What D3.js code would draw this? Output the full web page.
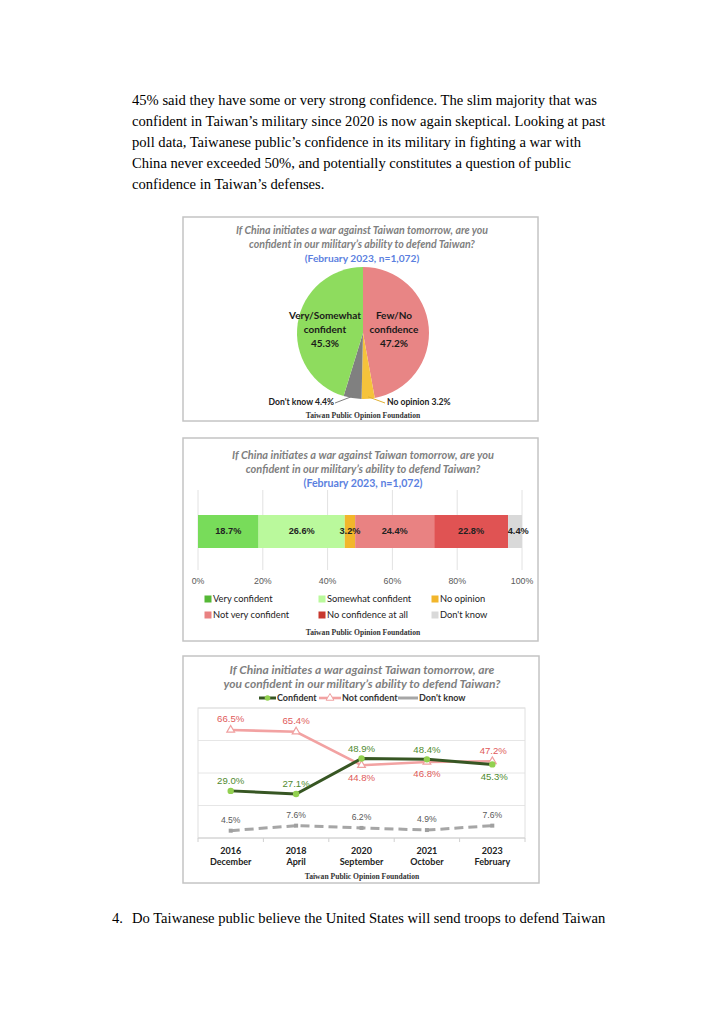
<!DOCTYPE html>
<html>
<head>
<meta charset="utf-8">
<title>Confidence in the military</title>
<script src="https://cdn.jsdelivr.net/npm/d3@7"></script>
<style>
  body { margin: 0; background: #fff; }
  svg { display: block; }
</style>
</head>
<body>
<div id="page"></div>
<script>
// ---- data ----
var bodyLines = [
  "45% said they have some or very strong confidence. The slim majority that was",
  "confident in Taiwan\u2019s military since 2020 is now again skeptical. Looking at past",
  "poll data, Taiwanese public\u2019s confidence in its military in fighting a war with",
  "China never exceeded 50%, and potentially constitutes a question of public",
  "confidence in Taiwan\u2019s defenses."
];
var titleLines = [
  "If China initiates a war against Taiwan tomorrow, are you",
  "confident in our military\u2019s ability to defend Taiwan?"
];
var subTitle = "(February 2023, n=1,072)";
var lineTitle = [
  "If China initiates a war against Taiwan tomorrow, are",
  "you confident in our military\u2019s ability to defend Taiwan?"
];
var source = "Taiwan Public Opinion Foundation";

var pieLabels = ["Few/No confidence", "No opinion", "Don't know", "Very/Somewhat confident"];
var pieValues = [47.2, 3.2, 4.4, 45.3];

var barCats = ["Very confident", "Somewhat confident", "No opinion",
               "Not very confident", "No confidence at all", "Don't know"];
var barValues = [18.7, 26.6, 3.2, 24.4, 22.8, 4.4];
var barTicks = [0, 20, 40, 60, 80, 100];

var years = ["2016", "2018", "2020", "2021", "2023"];
var months = ["December", "April", "September", "October", "February"];
var confident = [29.0, 27.1, 48.9, 48.4, 45.3];
var notConfident = [66.5, 65.4, 44.8, 46.8, 47.2];
var dontKnow = [4.5, 7.6, 6.2, 4.9, 7.6];

// ---- page ----
var W = 724, H = 1024;
var svg = d3.select("#page").append("svg").attr("width", W).attr("height", H);
svg.append("rect").attr("width", W).attr("height", H).attr("fill", "#fff");

var serif = "'Liberation Serif', 'DejaVu Serif', serif";
var cal = "Lato, 'Open Sans', sans-serif";
var arial = "'Liberation Sans', Arial, sans-serif";

svg.selectAll("text.body")
  .data(bodyLines)
  .enter().append("text")
  .attr("class", "body")
  .attr("x", 132)
  .attr("y", function(d, i) { return 105 + i * 21; })
  .attr("font-family", serif)
  .attr("font-size", "14.6px")
  .attr("fill", "#000")
  .text(function(d) { return d; });

svg.append("text").attr("x", 112).attr("y", 923)
  .attr("font-family", serif).attr("font-size", "14.6px").attr("fill", "#000")
  .text("4.");
svg.append("text").attr("x", 132).attr("y", 923)
  .attr("font-family", serif).attr("font-size", "14.6px").attr("fill", "#000")
  .text("Do Taiwanese public believe the United States will send troops to defend Taiwan");

function panel(x, y, w, h) {
  svg.append("rect")
    .attr("x", x).attr("y", y).attr("width", w).attr("height", h)
    .attr("fill", "#fff").attr("stroke", "#c4c4c4").attr("stroke-width", 1.5);
}

function label(g, x, y, txt, opts) {
  opts = opts || {};
  return g.append("text")
    .attr("x", x).attr("y", y).attr("dy", "0.35em")
    .attr("text-anchor", opts.anchor || "middle")
    .attr("font-family", opts.family || cal)
    .attr("font-size", opts.size || "10px")
    .attr("font-weight", opts.weight || "bold")
    .attr("font-style", opts.style || "normal")
    .attr("fill", opts.fill || "#222")
    .text(txt);
}

// ---- pie panel ----
panel(183, 217, 355, 204);
var pg = svg.append("g");
label(pg, 362, 230, titleLines[0], {style: "italic", fill: "#7f7f7f", size: "10.6px"});
label(pg, 362, 244, titleLines[1], {style: "italic", fill: "#7f7f7f", size: "10.6px"});
label(pg, 362, 258, subTitle, {fill: "#5b7fe0", size: "10.2px"});

var pieColors = ["#e88585", "#f5c33b", "#808080", "#8edc5e"];
var cx = 363, cy = 333, r = 66;
var pie = d3.pie().sort(null).value(function(d) { return d; });
var arcs = pie(pieValues);
var arc = d3.arc().innerRadius(0).outerRadius(r);
var pieG = pg.append("g").attr("transform", "translate(" + cx + "," + cy + ")");
pieG.selectAll("path")
  .data(arcs)
  .enter().append("path")
  .attr("d", arc)
  .attr("fill", function(d, i) { return pieColors[i]; });

label(pg, 325, 315, "Very/Somewhat", {size: "10px", fill: "#1a1a1a"});
label(pg, 325, 329, "confident", {size: "10px", fill: "#1a1a1a"});
label(pg, 325, 343, "45.3%", {size: "10px", fill: "#1a1a1a"});
label(pg, 394, 315, "Few/No", {size: "10px", fill: "#1a1a1a"});
label(pg, 394, 329, "confidence", {size: "10px", fill: "#1a1a1a"});
label(pg, 394, 343, "47.2%", {size: "10px", fill: "#1a1a1a"});

// leader lines for the small slices
var edge = d3.arc().innerRadius(r - 2).outerRadius(r - 2);
var dk = edge.centroid(arcs[2]), no = edge.centroid(arcs[1]);
pg.append("line").attr("x1", 335).attr("y1", 403)
  .attr("x2", cx + dk[0]).attr("y2", cy + dk[1])
  .attr("stroke", "#7f7f7f").attr("stroke-width", 1);
pg.append("line").attr("x1", 385).attr("y1", 403)
  .attr("x2", cx + no[0]).attr("y2", cy + no[1])
  .attr("stroke", "#e0b030").attr("stroke-width", 1);
label(pg, 334, 402, "Don't know 4.4%", {anchor: "end", size: "8.6px"});
label(pg, 387, 402, "No opinion 3.2%", {anchor: "start", size: "8.6px"});
label(pg, 363, 415, source, {family: serif, size: "7.6px", fill: "#333"});

// ---- stacked bar panel ----
panel(183, 438, 355, 203);
var bg = svg.append("g");
label(bg, 363, 455, titleLines[0], {style: "italic", fill: "#7f7f7f", size: "11px"});
label(bg, 363, 469, titleLines[1], {style: "italic", fill: "#7f7f7f", size: "11px"});
label(bg, 363, 483, subTitle, {fill: "#5b7fe0", size: "10.6px"});

var bx = d3.scaleLinear().domain([0, 100]).range([198, 522]);
bg.selectAll("line.grid")
  .data(barTicks)
  .enter().append("line")
  .attr("class", "grid")
  .attr("x1", function(d) { return bx(d); }).attr("x2", function(d) { return bx(d); })
  .attr("y1", 490).attr("y2", 570)
  .attr("stroke", "#e2e2e2").attr("stroke-width", 1);
bg.selectAll("text.tick")
  .data(barTicks)
  .enter().append("text")
  .attr("class", "tick")
  .attr("x", function(d) { return bx(d); }).attr("y", 581).attr("dy", "0.35em")
  .attr("text-anchor", "middle")
  .attr("font-family", arial).attr("font-size", "8.8px").attr("fill", "#595959")
  .text(function(d) { return d + "%"; });

var barColors = ["#78dc5a", "#baf99c", "#f2b62b", "#e98282", "#e05353", "#d9d9d9"];
var segs = [], acc = 0;
barValues.forEach(function(v, i) { segs.push({i: i, v: v, x0: acc, x1: acc + v}); acc += v; });
bg.selectAll("rect.seg")
  .data(segs)
  .enter().append("rect")
  .attr("class", "seg")
  .attr("x", function(d) { return bx(d.x0); })
  .attr("width", function(d) { return bx(Math.min(d.x1, 100)) - bx(d.x0); })
  .attr("y", 515).attr("height", 33)
  .attr("fill", function(d) { return barColors[d.i]; });
bg.selectAll("text.seglab")
  .data(segs)
  .enter().append("text")
  .attr("class", "seglab")
  .attr("x", function(d) { return bx((d.x0 + d.x1) / 2) + (d.i == 5 ? 3 : 0); })
  .attr("y", 531).attr("dy", "0.35em")
  .attr("text-anchor", "middle")
  .attr("font-family", arial).attr("font-size", "9.2px").attr("font-weight", "bold")
  .attr("fill", "#222")
  .text(function(d) { return d.v.toFixed(1) + "%"; });

var legX = [208, 322, 435];
var leg = bg.selectAll("g.leg")
  .data(barCats)
  .enter().append("g")
  .attr("class", "leg")
  .attr("transform", function(d, i) {
    return "translate(" + legX[i % 3] + "," + (i < 3 ? 599 : 615) + ")";
  });
leg.append("rect").attr("x", -3.5).attr("y", -3.5).attr("width", 7).attr("height", 7)
  .attr("fill", function(d, i) { return i == 0 ? "#55b836" : (i == 4 ? "#c8382e" : barColors[i]); });
leg.append("text").attr("x", 5).attr("dy", "0.35em")
  .attr("font-family", cal).attr("font-size", "9.3px").attr("fill", "#222")
  .text(function(d) { return d; });
label(bg, 363, 632, source, {family: serif, size: "7.6px", fill: "#333"});

// ---- line panel ----
panel(183, 656, 356, 227);
var lg = svg.append("g");
label(lg, 362, 670, lineTitle[0], {style: "italic", fill: "#7f7f7f", size: "12px"});
label(lg, 362, 684, lineTitle[1], {style: "italic", fill: "#7f7f7f", size: "12px"});

var x = d3.scalePoint().domain(years).range([198, 525]).padding(0.5);
var y = d3.scaleLinear().domain([0, 80]).range([838, 708]);
var step = x.step();

lg.selectAll("line.hgrid")
  .data([20, 40, 60, 80])
  .enter().append("line")
  .attr("class", "hgrid")
  .attr("x1", 198).attr("x2", 525)
  .attr("y1", function(d) { return y(d); }).attr("y2", function(d) { return y(d); })
  .attr("stroke", "#e6e6e6");
lg.append("rect").attr("x", 198).attr("y", y(80)).attr("width", 327).attr("height", y(0) - y(80))
  .attr("fill", "none").attr("stroke", "#e0e0e0");
lg.append("line").attr("x1", 198).attr("x2", 525).attr("y1", y(0)).attr("y2", y(0))
  .attr("stroke", "#d0d0d0");
lg.selectAll("line.xt")
  .data(d3.range(6))
  .enter().append("line")
  .attr("class", "xt")
  .attr("x1", function(d) { return 198 + d * step; }).attr("x2", function(d) { return 198 + d * step; })
  .attr("y1", y(0)).attr("y2", y(0) + 4)
  .attr("stroke", "#d0d0d0");

var line = d3.line()
  .x(function(d, i) { return x(years[i]); })
  .y(function(d) { return y(d); });

lg.append("path").datum(dontKnow).attr("d", line)
  .attr("fill", "none").attr("stroke", "#a6a6a6").attr("stroke-width", 3)
  .attr("stroke-dasharray", "9,5");
lg.selectAll("rect.dkm")
  .data(dontKnow)
  .enter().append("rect")
  .attr("class", "dkm")
  .attr("x", function(d, i) { return x(years[i]) - 2; })
  .attr("y", function(d) { return y(d) - 2; })
  .attr("width", 4).attr("height", 4).attr("fill", "#a0a0a0");

lg.append("path").datum(notConfident).attr("d", line)
  .attr("fill", "none").attr("stroke", "#f2a2a2").attr("stroke-width", 2.6);
var tri = d3.symbol().type(d3.symbolTriangle).size(26);
lg.selectAll("path.ncm")
  .data(notConfident)
  .enter().append("path")
  .attr("class", "ncm")
  .attr("d", tri)
  .attr("transform", function(d, i) { return "translate(" + x(years[i]) + "," + y(d) + ")"; })
  .attr("fill", "#fff").attr("stroke", "#f0a0a0").attr("stroke-width", 1.2);

lg.append("path").datum(confident).attr("d", line)
  .attr("fill", "none").attr("stroke", "#375623").attr("stroke-width", 3);
lg.selectAll("circle.cm")
  .data(confident)
  .enter().append("circle")
  .attr("class", "cm")
  .attr("cx", function(d, i) { return x(years[i]); })
  .attr("cy", function(d) { return y(d); })
  .attr("r", 3.2).attr("fill", "#92d050");

// data labels: above unless the lines cross
var confBelow = [false, false, false, false, true];
var notBelow = [false, false, true, true, false];
var labOpts = {family: arial, size: "9.6px", weight: "normal"};
confident.forEach(function(v, i) {
  label(lg, x(years[i]) + (i == 4 ? 2 : 0), y(v) + (confBelow[i] ? 12 : -10), v.toFixed(1) + "%",
    Object.assign({}, labOpts, {fill: "#4f8a2f"}));
});
notConfident.forEach(function(v, i) {
  label(lg, x(years[i]) + (i == 4 ? 1 : 0), y(v) + (notBelow[i] ? 12 : -11), v.toFixed(1) + "%",
    Object.assign({}, labOpts, {fill: "#e05a5a"}));
});
dontKnow.forEach(function(v, i) {
  label(lg, x(years[i]), y(v) - 11, v.toFixed(1) + "%",
    Object.assign({}, labOpts, {fill: "#595959", size: "8.6px"}));
});

years.forEach(function(yr, i) {
  label(lg, x(yr), 851, yr, {size: "9px", fill: "#222"});
  label(lg, x(yr), 862, months[i], {size: "9px", fill: "#222"});
});

// legend
var lgItems = [
  {name: "Confident", x0: 259, x1: 276, color: "#375623", w: 3},
  {name: "Not confident", x0: 319, x1: 341, color: "#f2a2a2", w: 2.6},
  {name: "Don't know", x0: 398, x1: 418, color: "#a6a6a6", w: 3}
];
lgItems.forEach(function(d, i) {
  lg.append("line").attr("x1", d.x0).attr("x2", d.x1).attr("y1", 698).attr("y2", 698)
    .attr("stroke", d.color).attr("stroke-width", d.w);
  var mx = (d.x0 + d.x1) / 2;
  if (i == 0) lg.append("circle").attr("cx", mx).attr("cy", 698).attr("r", 2.8).attr("fill", "#92d050");
  if (i == 1) lg.append("path").attr("d", tri).attr("transform", "translate(" + mx + ",698)")
    .attr("fill", "#fff").attr("stroke", "#f0a0a0");
  label(lg, d.x1 + 1, 698, d.name, {anchor: "start", size: "9px", fill: "#333"});
});
label(lg, 362, 876, source, {family: serif, size: "7.6px", fill: "#333"});
</script>
</body>
</html>
